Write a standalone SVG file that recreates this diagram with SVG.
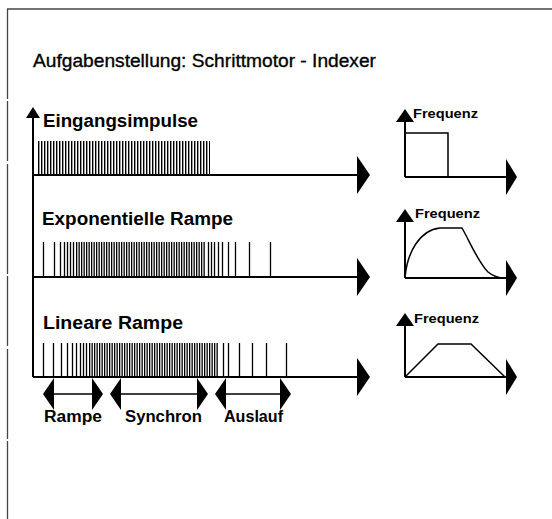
<svg xmlns="http://www.w3.org/2000/svg" xmlns:xlink="http://www.w3.org/1999/xlink" width="552" height="519" viewBox="0 0 552 519">
  <style>
    text { font-family: "Liberation Sans", Arial, sans-serif; fill: #000; }
    .title { font-size: 19px; stroke: #000; stroke-width: 0.35; }
    .label { font-size: 17.5px; font-weight: bold; }
    .freq { font-size: 13px; font-weight: bold; }
    .span-label { font-size: 16px; font-weight: bold; }
    .axis { stroke: #000; stroke-width: 2; fill: none; }
    .curve { stroke: #000; stroke-width: 1.5; fill: none; }
    .pulse { stroke: #000; stroke-width: 1.3; fill: none; }
    .dense { stroke: #000; fill: none; }
    .head { fill: #000; }
    .frame { stroke: #444; stroke-width: 1.3; fill: none; }
  </style>
  <defs>
    <!-- arrowheads, drawn with the tip or base at the origin -->
    <path id="bigHead" d="M0,-19 L13,0 L0,19 Z"/>
    <path id="upHead" d="M-7,11 L0,0 L7,11 Z"/>
    <path id="freqUpHead" d="M-9,13 L0,0 L9,13 Z"/>
    <path id="freqHead" d="M0,-18 L11,0 L0,18 Z"/>
    <path id="spanRight" d="M0,-16 L11,0 L0,16 Z"/>
    <path id="spanLeft" d="M0,-16 L-11,0 L0,16 Z"/>
  </defs>

  <rect width="552" height="519" fill="#fff"/>

  <!-- page frame -->
  <g id="frame">
    <line class="frame" x1="7" y1="9" x2="552" y2="9"/>
    <line class="frame" x1="7.5" y1="9" x2="7.5" y2="519" stroke-dasharray="90 2 60 3 110 2 70 3 90 2 80"/>
  </g>

  <text id="title" class="title" x="33" y="67" textLength="343" lengthAdjust="spacingAndGlyphs">Aufgabenstellung: Schrittmotor - Indexer</text>

  <!-- common time axes of the three pulse trains -->
  <g id="connectors">
    <line class="axis" x1="33" y1="116" x2="33" y2="377"/>
    <use xlink:href="#upHead" class="head" x="33" y="107"/>
    <line class="axis" x1="33" y1="175" x2="358" y2="175"/>
    <use xlink:href="#bigHead" class="head" x="357" y="175"/>
    <line class="axis" x1="33" y1="277" x2="358" y2="277"/>
    <use xlink:href="#bigHead" class="head" x="357" y="277"/>
    <line class="axis" x1="33" y1="377" x2="358" y2="377"/>
    <use xlink:href="#bigHead" class="head" x="357" y="377"/>
  </g>

  <!-- row 1: constant input pulses -->
  <g id="row-eingangsimpulse">
    <text class="label" x="43" y="127" textLength="155" lengthAdjust="spacingAndGlyphs">Eingangsimpulse</text>
    <line class="dense" x1="38" y1="158" x2="210" y2="158" stroke-width="34" stroke-dasharray="1.4 1.6"/>
  </g>

  <!-- row 2: exponential ramp -->
  <g id="row-exponentielle-rampe">
    <text class="label" x="42" y="225" textLength="191" lengthAdjust="spacingAndGlyphs">Exponentielle Rampe</text>
    <path class="pulse" d="M43.5,242V277 M54.5,242V277 M60.5,242V277 M64.5,242V277 M67.5,242V277 M70.5,242V277 M73.5,242V277
      M208.5,242V277 M211.5,242V277 M214.5,242V277 M218.5,242V277 M222.5,242V277 M228.5,242V277 M235.5,242V277 M249.5,242V277 M270.5,242V277"/>
    <line class="dense" x1="76" y1="259.5" x2="206" y2="259.5" stroke-width="35" stroke-dasharray="1.3 1.2"/>
  </g>

  <!-- row 3: linear ramp -->
  <g id="row-lineare-rampe">
    <text class="label" x="43" y="329" textLength="140" lengthAdjust="spacingAndGlyphs">Lineare Rampe</text>
    <path class="pulse" d="M43.5,343V377 M53.5,343V377 M61.5,343V377 M67.5,343V377 M72.5,343V377 M76.5,343V377 M80.5,343V377 M83.5,343V377 M86.5,343V377
      M223.5,343V377 M228.5,343V377 M239.5,343V377 M252.5,343V377 M266.5,343V377 M286.5,343V377"/>
    <line class="dense" x1="89" y1="360" x2="219" y2="360" stroke-width="34" stroke-dasharray="1.3 1.2"/>
  </g>

  <!-- phase spans under the linear ramp -->
  <g id="span-rampe">
    <line class="pulse" x1="53" y1="394" x2="92" y2="394" stroke-width="1.5"/>
    <use xlink:href="#spanLeft" class="head" x="54" y="394"/>
    <use xlink:href="#spanRight" class="head" x="92" y="394"/>
    <text class="span-label" x="44" y="422" textLength="58" lengthAdjust="spacingAndGlyphs">Rampe</text>
  </g>
  <g id="span-synchron">
    <line class="pulse" x1="121" y1="394" x2="197" y2="394" stroke-width="1.5"/>
    <use xlink:href="#spanLeft" class="head" x="121" y="394"/>
    <use xlink:href="#spanRight" class="head" x="197" y="394"/>
    <text class="span-label" x="125" y="422" textLength="77" lengthAdjust="spacingAndGlyphs">Synchron</text>
  </g>
  <g id="span-auslauf">
    <line class="pulse" x1="226" y1="394" x2="280" y2="394" stroke-width="1.5"/>
    <use xlink:href="#spanLeft" class="head" x="226" y="394"/>
    <use xlink:href="#spanRight" class="head" x="280" y="394"/>
    <text class="span-label" x="224" y="422" textLength="59" lengthAdjust="spacingAndGlyphs">Auslauf</text>
  </g>

  <!-- frequency profiles -->
  <g id="freq-rechteck">
    <line class="axis" x1="405" y1="120" x2="405" y2="177"/>
    <use xlink:href="#freqUpHead" class="head" x="405" y="109"/>
    <line class="axis" x1="405" y1="177" x2="507" y2="177"/>
    <use xlink:href="#freqHead" class="head" x="506" y="177"/>
    <path class="curve" d="M405,133 H448 V177"/>
    <text class="freq" x="413" y="118" textLength="65" lengthAdjust="spacingAndGlyphs">Frequenz</text>
  </g>
  <g id="freq-exponentiell">
    <line class="axis" x1="405" y1="220" x2="405" y2="278"/>
    <use xlink:href="#freqUpHead" class="head" x="405" y="209"/>
    <line class="axis" x1="405" y1="278" x2="507" y2="278"/>
    <use xlink:href="#freqHead" class="head" x="506" y="278"/>
    <path class="curve" d="M405,278 C407,252 420,230 440,228 L462,228 C470,242 478,262 488,272 C494,277 500,278 505,278"/>
    <text class="freq" x="415" y="218" textLength="65" lengthAdjust="spacingAndGlyphs">Frequenz</text>
  </g>
  <g id="freq-linear">
    <line class="axis" x1="405" y1="324" x2="405" y2="377"/>
    <use xlink:href="#freqUpHead" class="head" x="405" y="313"/>
    <line class="axis" x1="405" y1="377" x2="507" y2="377"/>
    <use xlink:href="#freqHead" class="head" x="506" y="377"/>
    <path class="curve" d="M405,377 L438,344 L471,344 L505,377"/>
    <text class="freq" x="414" y="323" textLength="65" lengthAdjust="spacingAndGlyphs">Frequenz</text>
  </g>
</svg>
